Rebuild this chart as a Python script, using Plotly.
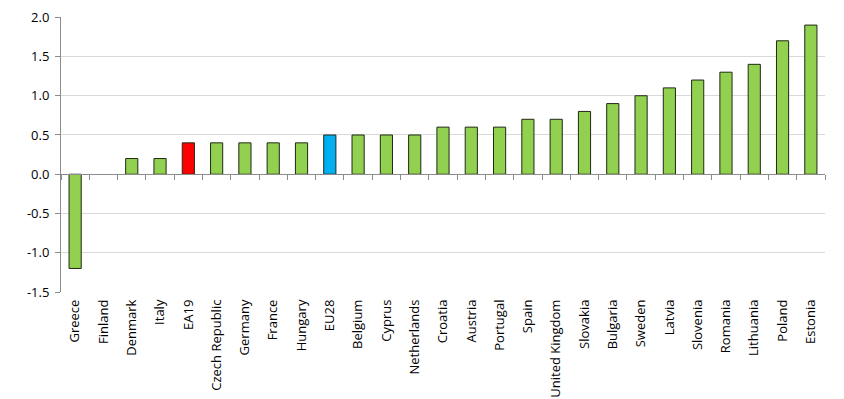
import plotly.graph_objects as go

countries = ["Greece", "Finland", "Denmark", "Italy", "EA19", "Czech Republic", "Germany",
             "France", "Hungary", "EU28", "Belgium", "Cyprus", "Netherlands", "Croatia",
             "Austria", "Portugal", "Spain", "United Kingdom", "Slovakia", "Bulgaria",
             "Sweden", "Latvia", "Slovenia", "Romania", "Lithuania", "Poland", "Estonia"]
values = [-1.2, 0.0, 0.2, 0.2, 0.4, 0.4, 0.4, 0.4, 0.4, 0.5, 0.5, 0.5, 0.5, 0.6,
          0.6, 0.6, 0.7, 0.7, 0.8, 0.9, 1.0, 1.1, 1.2, 1.3, 1.4, 1.7, 1.9]
ytick_vals = [-1.5, -1.0, -0.5, 0.0, 0.5, 1.0, 1.5, 2.0]
ytick_text = ["-1.5", "-1.0", "-0.5", "0.0", "0.5", "1.0", "1.5", "2.0"]

GREEN = "#92D050"
RED = "#FF0000"
BLUE = "#00B0F0"
colors = [RED if c == "EA19" else BLUE if c == "EU28" else GREEN for c in countries]
outline_w = [0 if v == 0 else 1 for v in values]

y_lo, y_hi = -1.5, 2.003
zero_frac = (0 - y_lo) / (y_hi - y_lo)

fig = go.Figure()
fig.add_trace(go.Bar(
    x=countries, y=values,
    marker=dict(color=colors, line=dict(color="#1e2a14", width=outline_w)),
    width=0.43, showlegend=False, hoverinfo="x+y"))
# invisible trace on overlay axis to draw tick marks on the zero line
fig.add_trace(go.Scatter(x=countries, y=[0] * len(countries), xaxis="x2", mode="markers",
                         marker=dict(opacity=0), showlegend=False, hoverinfo="skip"))

# page body has an 8px margin, so the figure is sized to fill the rest of the window
W, H = 836, 391
L, R, T, B = 53, 19, 9, 107
fig.update_layout(
    width=W, height=H,
    margin=dict(l=L, r=R, t=T, b=B, pad=0, autoexpand=False),
    plot_bgcolor="white", paper_bgcolor="white",
    font=dict(family="Open Sans, Liberation Sans, sans-serif", color="#000000"),
    xaxis=dict(
        type="category", tickangle=-90, tickfont=dict(size=13, color="#000000"),
        showgrid=False, showline=False, ticks="", zeroline=False, automargin=False,
        range=[-0.5, len(countries) - 0.5], ticklabelstandoff=4,
        ticklabeloverflow="allow",
    ),
    xaxis2=dict(
        type="category", overlaying="x", anchor="free", position=zero_frac,
        showline=True, linecolor="#8c8c8c", linewidth=1, automargin=False,
        ticks="outside", tickson="boundaries", ticklen=5, tickcolor="#8c8c8c",
        showticklabels=False, showgrid=False, zeroline=False,
        range=[-0.5, len(countries) - 0.5],
    ),
    yaxis=dict(
        range=[y_lo, y_hi], tickvals=ytick_vals, ticktext=ytick_text,
        tickfont=dict(size=13, color="#000000"), automargin=False,
        ticklabeloverflow="allow",
        showgrid=True, gridcolor="#D9D9D9", gridwidth=1,
        showline=True, linecolor="#8c8c8c", linewidth=1,
        ticks="outside", ticklen=5, tickcolor="#8c8c8c",
        zeroline=False, domain=[0, 1], ticklabelstandoff=3,
    ),
    shapes=[dict(type="line", xref="paper", yref="paper",
                 x0=(1 - 8 - L) / (W - L - R), x1=(1 - 8 - L) / (W - L - R),
                 y0=-B / (H - T - B), y1=1 + T / (H - T - B),
                 line=dict(color="#D9D9D9", width=1))],
)

fig.write_html("out.html")
